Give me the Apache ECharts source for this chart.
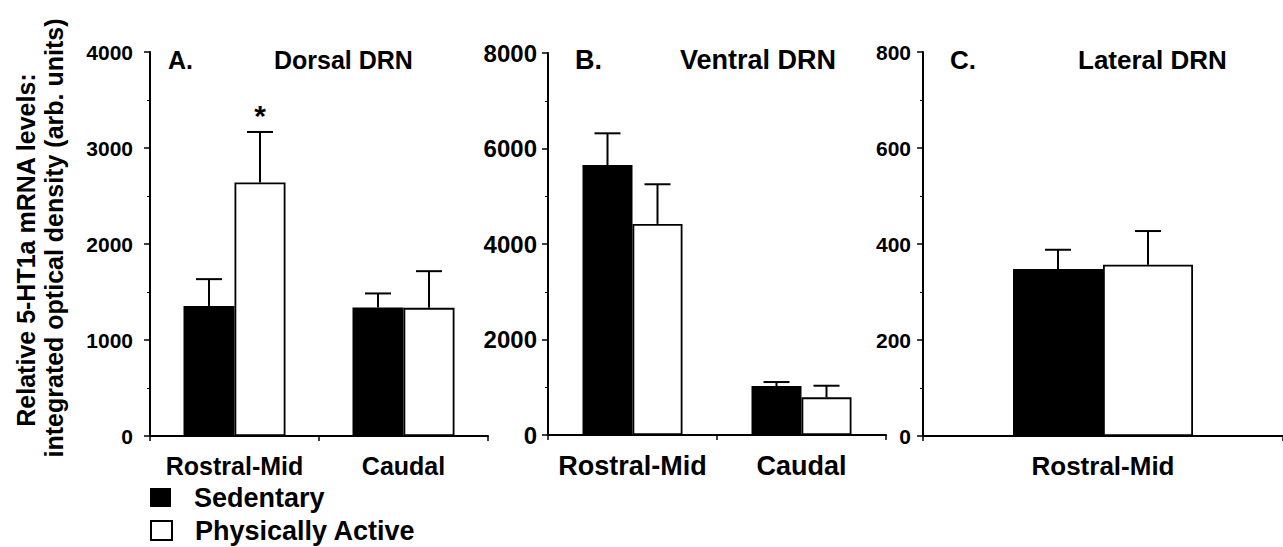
<!DOCTYPE html>
<html><head><meta charset="utf-8">
<script src="https://cdn.jsdelivr.net/npm/echarts@6/dist/echarts.min.js"></script>
<style>html,body{margin:0;padding:0;background:#fff}#c{width:1283px;height:547px}</style>
</head><body><div id="c"></div>
<script>
// ---- data ----
const panelLetters = ['A.', 'B.', 'C.'];
const panelTitles = ['Dorsal DRN', 'Ventral DRN', 'Lateral DRN'];
const catsA = ['Rostral-Mid', 'Caudal'];
const catsB = ['Rostral-Mid', 'Caudal'];
const catsC = ['Rostral-Mid'];
const sedA = [1353, 1339];  const sedErrA = [281, 146];
const actA = [2640, 1335];  const actErrA = [527, 382];
const sedB = [5655, 1025];  const sedErrB = [663, 84];
const actB = [4421, 789];   const actErrB = [830, 243];
const sedC = [348];         const sedErrC = [40];
const actC = [357];         const actErrC = [70];
const sigActA = [true, false];
const yMax = [4000, 8000, 800];
const yStep = [1000, 2000, 200];
const seriesNames = ['Sedentary', 'Physically Active'];

const FONT = '"Liberation Sans", Arial, Helvetica, sans-serif';
const grids = [
  {left: 150, top: 52, width: 338, height: 384},
  {left: 548, top: 53, width: 338, height: 382},
  {left: 923, top: 52, width: 370, height: 384}
];
const barW = [51, 50, 90];
const yLabelSize = [21, 24, 21];
const yLabelMargin = [17, 11, 12];
const xLabelSize = [25, 27, 26];
const titleSize = [25, 27, 26];
const cats = [catsA, catsB, catsC];
const sed = [sedA, sedB, sedC], sedErr = [sedErrA, sedErrB, sedErrC];
const act = [actA, actB, actC], actErr = [actErrA, actErrB, actErrC];

const xAxis = [], yAxis = [], series = [];
for (let p = 0; p < 3; p++) {
  xAxis.push({
    type: 'category', gridIndex: p, data: cats[p],
    axisLine: {lineStyle: {color: '#000', width: 2}},
    axisTick: {show: true, length: 5, lineStyle: {color: '#000', width: 1.5}},
    axisLabel: {color: '#000', fontFamily: FONT, fontWeight: 'bold', fontSize: xLabelSize[p],
      margin: 17, interval: 0, hideOverlap: false}
  });
  yAxis.push({
    type: 'value', gridIndex: p, min: 0, max: yMax[p], interval: yStep[p],
    axisLine: {show: true, lineStyle: {color: '#000', width: 2}},
    axisTick: {show: true, length: 6, lineStyle: {color: '#000', width: 1.5}},
    minorTick: {show: true, splitNumber: 2, length: 3, lineStyle: {color: '#000', width: 1}},
    splitLine: {show: false},
    axisLabel: {color: '#000', fontFamily: FONT, fontWeight: 'bold', fontSize: yLabelSize[p],
      margin: yLabelMargin[p], formatter: function (v) { return String(v); }}
  });
  const groups = [
    {vals: sed[p], errs: sedErr[p], color: '#000', off: -1},
    {vals: act[p], errs: actErr[p], color: '#fff', off: 1}
  ];
  groups.forEach((g, gi) => {
    series.push({
      type: 'bar', name: seriesNames[gi], xAxisIndex: p, yAxisIndex: p,
      data: g.vals, barWidth: barW[p], barGap: '0%',
      itemStyle: {color: g.color, borderColor: '#000', borderWidth: gi === 1 ? 1.8 : 0},
      emphasis: {disabled: true}, z: 2
    });
    const flags = (p === 0 && gi === 1) ? sigActA : g.vals.map(() => false);
    series.push({
      type: 'custom', name: seriesNames[gi] + ' SEM', xAxisIndex: p, yAxisIndex: p,
      data: g.vals.map((v, i) => [i, v, g.errs[i], flags[i] ? 1 : 0]),
      z: 3, silent: true,
      renderItem: function (params, api) {
        const i = api.value(0), v = api.value(1), e = api.value(2), s = api.value(3);
        const base = api.coord([i, v]);
        const top = api.coord([i, v + e]);
        const x = base[0] + g.off * barW[p] / 2;
        const cap = 13;
        const children = [
          {type: 'line', shape: {x1: x, y1: base[1], x2: x, y2: top[1]}, style: {stroke: '#000', lineWidth: 2}},
          {type: 'line', shape: {x1: x - cap, y1: top[1], x2: x + cap, y2: top[1]}, style: {stroke: '#000', lineWidth: 2}}
        ];
        if (s) {
          children.push({type: 'text', x: x, y: top[1] - 16,
            style: {text: '*', fill: '#000', font: 'bold 30px ' + FONT, align: 'center', verticalAlign: 'middle'}});
        }
        return {type: 'group', children: children};
      }
    });
  });
}

const titleX = [[168, 274], [575, 680], [950, 1078]];
const graphic = [];
for (let p = 0; p < 3; p++) {
  graphic.push({type: 'text', x: titleX[p][0], y: 60,
    style: {text: panelLetters[p], fill: '#000', font: 'bold ' + titleSize[p] + 'px ' + FONT, verticalAlign: 'middle'}});
  graphic.push({type: 'text', x: titleX[p][1], y: 60,
    style: {text: panelTitles[p], fill: '#000', font: 'bold ' + titleSize[p] + 'px ' + FONT, verticalAlign: 'middle'}});
}
graphic.push({type: 'text', x: 26, y: 250, rotation: Math.PI / 2,
  style: {text: 'Relative 5-HT1a mRNA levels:', fill: '#000', font: 'bold 25px ' + FONT, align: 'center', verticalAlign: 'middle'}});
graphic.push({type: 'text', x: 54, y: 238, rotation: Math.PI / 2,
  style: {text: 'integrated optical density (arb. units)', fill: '#000', font: 'bold 25px ' + FONT, align: 'center', verticalAlign: 'middle'}});

const legendTops = [484, 517];
const legends = seriesNames.map((n, i) => ({
  data: [n], orient: 'vertical', left: 150, top: legendTops[i], padding: 0,
  itemWidth: 21, itemHeight: 19, icon: 'rect',
  textStyle: {color: '#000', fontFamily: FONT, fontWeight: 'bold', fontSize: 27, padding: [0, 0, 0, 18]},
  selectedMode: false
}));

const chart = echarts.init(document.getElementById('c'), null, {renderer: 'svg'});
chart.setOption({
  animation: false,
  backgroundColor: '#fff',
  grid: grids,
  xAxis: xAxis,
  yAxis: yAxis,
  legend: legends,
  series: series,
  graphic: graphic
});
</script></body></html>
